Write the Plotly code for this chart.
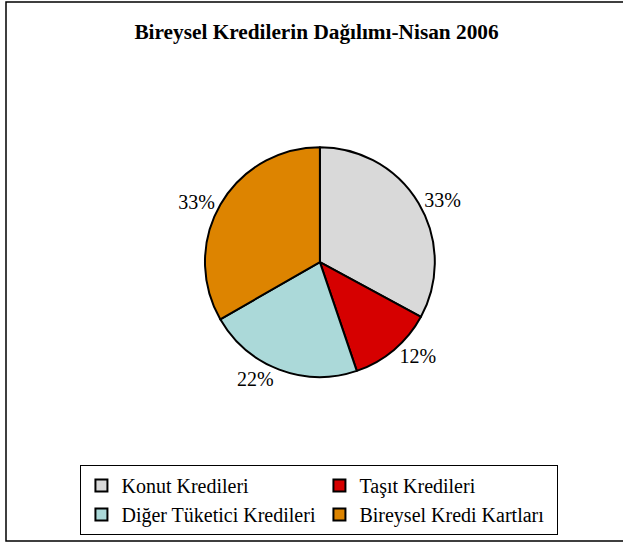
import plotly.graph_objects as go

labels = ["Konut Kredileri", "Taşıt Kredileri", "Diğer Tüketici Kredileri", "Bireysel Kredi Kartları"]
values = [32.9, 11.9, 21.9, 33.3]
colors = ["#d9d9d9", "#d60000", "#abd9d9", "#dd8400"]

title_text = "Bireysel Kredilerin Dağılımı-Nisan 2006"
SERIF = "Liberation Serif, Times New Roman, serif"

fig = go.Figure(go.Pie(
    labels=labels,
    values=values,
    sort=False,
    direction="clockwise",
    rotation=0,
    marker=dict(colors=colors, line=dict(color="black", width=2)),
    textposition="outside",
    texttemplate="%{percent:.0%}",
    textfont=dict(family=SERIF, size=20, color="black"),
    domain=dict(x=[0.3225, 0.695], y=[0.304, 0.731]),
    automargin=False,
    showlegend=True,
))

fig.update_layout(
    width=623, height=545,
    margin=dict(l=6, r=0, t=2, b=4),
    paper_bgcolor="white",
    plot_bgcolor="white",
    font=dict(family=SERIF, color="black"),
    title=dict(text="<b>" + title_text + "</b>", x=0.508, xanchor="center", y=0.943, yanchor="middle",
               font=dict(family=SERIF, size=21.3, color="black")),
    legend=dict(
        orientation="h",
        x=0.508, xanchor="center",
        y=0.011, yanchor="bottom",
        bordercolor="black", borderwidth=1,
        bgcolor="white",
        font=dict(family=SERIF, size=20, color="black"),
        entrywidth=193,
        itemwidth=30,
        tracegroupgap=0,
    ),
    shapes=[dict(type="rect", xref="paper", yref="paper", x0=0, x1=1.01, y0=0, y1=1.0,
                 line=dict(color="black", width=1.5), layer="above")],
)

fig.write_html("out.html", config={"displayModeBar": False},
               post_script="document.body.style.margin='0';")
